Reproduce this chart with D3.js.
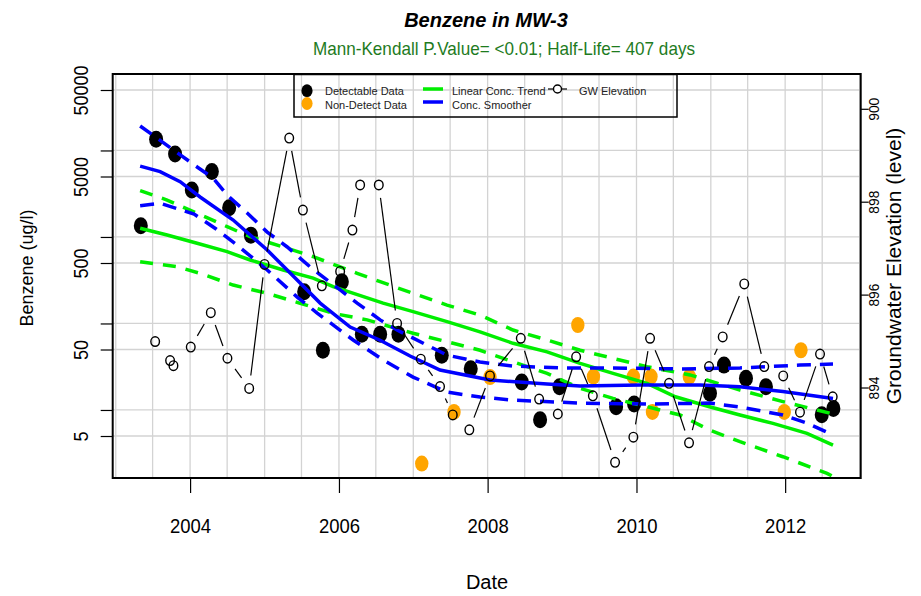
<!DOCTYPE html>
<html>
<head>
<meta charset="utf-8">
<script src="https://cdn.jsdelivr.net/npm/d3@7"></script>
<style>
  body { margin: 0; background: #fff; }
  text { font-family: "Liberation Sans", Arial, sans-serif; }
</style>
</head>
<body>
<div id="chart"></div>
<script>
// dates are decimal years, concentrations in ug/l, elevations in ft
var detectDates = [2003.337, 2003.543, 2003.798, 2004.023, 2004.292, 2004.524, 2004.816, 2005.532, 2005.784, 2006.039,
    2006.308, 2006.554, 2006.800, 2007.383, 2007.773, 2008.458, 2008.704, 2008.964, 2009.726, 2009.968,
    2010.989, 2011.177, 2011.473, 2011.742, 2012.491, 2012.647];
var detectValues = [1350, 13500, 9100, 3500, 5700, 2180, 1050, 233, 49, 304,
    75, 75, 75, 43, 30, 21, 7.7, 18.6, 10.9, 11.7,
    15.6, 33, 23.2, 18.6, 8.8, 10.4];

var ndDates = [2007.114, 2007.548, 2008.032, 2009.211, 2009.421, 2009.958, 2010.195, 2010.215, 2010.711, 2011.988, 2012.212];
var ndValues = [2.4, 9.5, 24, 96, 24.3, 24.3, 24.3, 9.5, 24.3, 9.5, 49];

var gwDates = [2003.530, 2003.731, 2003.776, 2004.009, 2004.278, 2004.501, 2004.793, 2004.999, 2005.331, 2005.515,
    2005.770, 2006.016, 2006.181, 2006.285, 2006.536, 2006.782, 2007.101, 2007.360, 2007.531, 2007.754,
    2008.032, 2008.445, 2008.691, 2008.942, 2009.188, 2009.413, 2009.712, 2009.958, 2010.183, 2010.438,
    2010.707, 2010.976, 2011.160, 2011.450, 2011.719, 2011.974, 2012.199, 2012.468, 2012.638];
var gwLevels = [894.99, 894.58, 894.47, 894.87, 895.61, 894.63, 893.98, 896.65, 899.37, 897.82,
    896.19, 896.50, 897.39, 898.36, 898.36, 895.38, 894.61, 894.02, 893.41, 893.09,
    894.25, 895.06, 893.75, 893.43, 894.66, 893.82, 892.39, 892.93, 895.06, 894.09,
    892.81, 894.45, 895.09, 896.23, 894.45, 894.25, 893.47, 894.72, 893.80];

var smoothDates = [2003.328, 2003.597, 2003.866, 2004.134, 2004.578, 2005.035, 2005.344, 2005.747, 2006.151, 2006.554,
    2006.957, 2007.360, 2008.032, 2008.798, 2009.242, 2010.048, 2010.855, 2011.392, 2011.970, 2012.642];
var smoothValues = [6600, 5700, 4350, 2900, 1570, 706, 383, 172, 91, 64,
    42, 29, 22.2, 20, 18.9, 19.4, 19.4, 18.6, 16.3, 13.6];

var smoothUpDates = [2003.328, 2004.094, 2004.309, 2004.497, 2004.766, 2005.035, 2005.304, 2005.613, 2006.016, 2006.245,
    2006.554, 2006.782, 2007.454, 2007.898, 2008.341, 2009.013, 2009.685, 2010.586, 2011.392, 2012.199, 2012.642];
var smoothUpValues = [19200, 6440, 4800, 3055, 1890, 1140, 766, 450, 244, 172,
    110, 84, 43, 35.8, 32.2, 30.6, 30.6, 29.8, 30.6, 33, 34];

var smoothLoDates = [2003.328, 2003.597, 2004.054, 2004.349, 2004.645, 2005.035, 2005.438, 2005.707, 2006.191, 2006.594,
    2006.997, 2007.454, 2007.898, 2008.341, 2009.242, 2010.142, 2010.989, 2011.392, 2011.970, 2012.293, 2012.642];
var smoothLoValues = [2300, 2450, 1840, 1236, 787, 415, 202, 132, 64.4, 37.8,
    24, 16.1, 14.1, 13, 12, 11.7, 12, 10.8, 8.75, 7.06, 5.13];

var trendDates = [2003.328, 2003.691, 2004.094, 2004.497, 2004.806, 2005.250, 2005.653, 2005.922, 2006.594, 2006.997,
    2007.454, 2007.898, 2008.341, 2008.798, 2009.242, 2009.685, 2010.142, 2010.524, 2010.981, 2011.392,
    2011.836, 2012.293, 2012.642];
var trendValues = [1259, 1054, 845, 676, 542, 415, 335, 266, 172, 137,
    105, 80, 59, 47, 34.6, 26.5, 20.3, 14.2, 10.9, 8.75,
    7.0, 5.37, 3.93];

var trendUpDates = [2003.328, 2003.691, 2004.094, 2004.497, 2004.806, 2005.304, 2005.653, 2006.245, 2006.554, 2006.997,
    2007.454, 2007.898, 2008.341, 2008.798, 2009.242, 2009.685, 2010.142, 2010.720, 2011.392, 2011.970, 2012.642];
var trendUpValues = [3427, 2673, 1878, 1315, 1007, 740, 592, 380, 304, 223,
    163, 125, 84, 64.4, 49, 39.5, 31.6, 25.4, 17, 12.5, 9];

var trendLoDates = [2003.328, 2003.825, 2004.134, 2004.578, 2005.035, 2005.478, 2005.922, 2006.379, 2006.997, 2007.454,
    2007.898, 2008.341, 2008.798, 2009.242, 2009.685, 2010.142, 2010.586, 2010.981, 2011.392, 2011.970,
    2012.562, 2012.642];
var trendLoValues = [518, 453, 380, 278, 223, 171, 131, 110, 77, 61.5,
    49, 36, 26.5, 17.8, 13.6, 10.9, 8.75, 5.87, 4.3, 2.88,
    1.85, 1.7];

var concTicks = [5, 10, 50, 100, 500, 1000, 5000, 10000, 50000];
var concLabels = [5, 50, 500, 5000, 50000];
var gwTicks = [894, 896, 898, 900];
var yearTicks = [2004, 2006, 2008, 2010, 2012];

var legendItems = ["Detectable Data", "Non-Detect Data", "Linear Conc. Trend", "Conc. Smoother", "GW Elevation"];

// decimal year -> UTC date
function yr(v) {
    var y = Math.floor(v);
    var s = Date.UTC(y, 0, 1), e = Date.UTC(y + 1, 0, 1);
    return new Date(s + (v - y) * (e - s));
}

function zip(a, b) { return a.map(function(d, i) { return [d, b[i]]; }); }

// squeeze text horizontally, the source uses a narrow face
function condense(sel, k) {
    sel.each(function() {
        var L = this.getComputedTextLength();
        d3.select(this).attr("textLength", L * k).attr("lengthAdjust", "spacingAndGlyphs");
    });
}

var width = 921, height = 596;
var margin = { top: 74, right: 60.3, bottom: 118, left: 112.7 };
var pw = width - margin.left - margin.right;
var ph = height - margin.top - margin.bottom;

var svg = d3.select("#chart").append("svg")
    .attr("width", width)
    .attr("height", height);

var x = d3.scaleUtc()
    .domain([new Date(Date.UTC(2002, 11, 17)), new Date(Date.UTC(2013, 0, 6))])
    .range([0, pw]);
var y = d3.scaleLog()
    .domain([1.635, 76550])
    .range([ph, 0]);
var y2 = d3.scaleLinear()
    .domain([892.052, 900.749])
    .range([ph, 0]);

var g = svg.append("g").attr("transform", "translate(" + margin.left + "," + margin.top + ")");

svg.append("defs").append("clipPath").attr("id", "clip")
    .append("rect").attr("width", pw).attr("height", ph);

// grid
g.append("g").selectAll("line")
    .data(x.ticks(d3.utcMonth.every(6)))
    .enter().append("line")
    .attr("x1", d => x(d)).attr("x2", d => x(d))
    .attr("y1", 0).attr("y2", ph)
    .attr("stroke", "#d3d3d3").attr("stroke-width", 1.3);
g.append("g").selectAll("line")
    .data(concTicks)
    .enter().append("line")
    .attr("x1", 0).attr("x2", pw)
    .attr("y1", d => y(d)).attr("y2", d => y(d))
    .attr("stroke", "#d3d3d3").attr("stroke-width", 1.3);

var plot = g.append("g").attr("clip-path", "url(#clip)");

// sample points
plot.selectAll(".det")
    .data(zip(detectDates, detectValues))
    .enter().append("ellipse")
    .attr("cx", d => x(yr(d[0])))
    .attr("cy", d => y(d[1]))
    .attr("rx", 7).attr("ry", 8.5)
    .attr("fill", "#000");
plot.selectAll(".nd")
    .data(zip(ndDates, ndValues))
    .enter().append("ellipse")
    .attr("cx", d => x(yr(d[0])))
    .attr("cy", d => y(d[1]))
    .attr("rx", 6.7).attr("ry", 8)
    .attr("fill", "#ffa500");

var line = d3.line()
    .x(d => x(yr(d[0])))
    .y(d => y(d[1]));

function drawLine(dates, vals, color, dash) {
    plot.append("path")
        .datum(zip(dates, vals))
        .attr("d", line)
        .attr("fill", "none")
        .attr("stroke", color)
        .attr("stroke-width", 3.5)
        .attr("stroke-dasharray", dash);
}
drawLine(trendUpDates, trendUpValues, "#00ee00", "13,10");
drawLine(trendLoDates, trendLoValues, "#00ee00", "13,10");
drawLine(trendDates, trendValues, "#00ee00", null);
drawLine(smoothUpDates, smoothUpValues, "#0000ff", "14,9");
drawLine(smoothLoDates, smoothLoValues, "#0000ff", "14,9");
drawLine(smoothDates, smoothValues, "#0000ff", null);

// groundwater elevation, R type="b": segments stop short of the circles
var gw = zip(gwDates, gwLevels).map(d => [x(yr(d[0])), y2(d[1])]);
var gap = 13;
for (var i = 0; i < gw.length - 1; i++) {
    var a = gw[i], b = gw[i + 1];
    var dx = b[0] - a[0], dy = b[1] - a[1];
    var dist = Math.sqrt(dx * dx + dy * dy);
    if (dist <= 2 * gap) continue;
    var ux = dx / dist, uy = dy / dist;
    plot.append("line")
        .attr("x1", a[0] + ux * gap).attr("y1", a[1] + uy * gap)
        .attr("x2", b[0] - ux * gap).attr("y2", b[1] - uy * gap)
        .attr("stroke", "#000").attr("stroke-width", 1.2);
}
plot.selectAll(".gw")
    .data(gw)
    .enter().append("ellipse")
    .attr("cx", d => d[0]).attr("cy", d => d[1])
    .attr("rx", 4.3).attr("ry", 4.8)
    .attr("fill", "none").attr("stroke", "#000").attr("stroke-width", 1.4);

// axes
var xAxis = g.append("g")
    .attr("transform", "translate(0," + ph + ")")
    .call(d3.axisBottom(x).tickValues(yearTicks.map(yr)).tickSize(15).tickFormat(d3.utcFormat("%Y")));
xAxis.select(".domain").remove();
xAxis.selectAll("text").attr("y", 55).attr("dy", null)
    .attr("font-size", 21).attr("fill", "#000");
condense(xAxis.selectAll("text"), 0.88);

var yAxis = g.append("g")
    .call(d3.axisLeft(y).tickValues(concTicks).tickSize(12)
        .tickFormat(d => concLabels.indexOf(d) >= 0 ? String(d) : ""));
yAxis.select(".domain").remove();
yAxis.selectAll("text")
    .attr("x", null).attr("dy", null)
    .attr("text-anchor", "middle")
    .attr("transform", "translate(-25,0) rotate(-90)")
    .attr("font-size", 21).attr("fill", "#000");
condense(yAxis.selectAll("text"), 0.86);

var y2Axis = g.append("g")
    .attr("transform", "translate(" + pw + ",0)")
    .call(d3.axisRight(y2).tickValues(gwTicks).tickSize(8).tickFormat(d3.format("d")));
y2Axis.select(".domain").remove();
y2Axis.selectAll("text")
    .attr("x", null).attr("dy", null)
    .attr("text-anchor", "middle")
    .attr("transform", "translate(18,0) rotate(-90)")
    .attr("font-size", 15).attr("fill", "#000");
condense(y2Axis.selectAll("text"), 0.92);
g.selectAll(".tick line").attr("stroke", "#000").attr("stroke-width", 1.2);

// frame
g.append("rect")
    .attr("width", pw).attr("height", ph)
    .attr("fill", "none").attr("stroke", "#000").attr("stroke-width", 2);

// legend
var lg = svg.append("g");
lg.append("rect").attr("x", 294).attr("y", 74.5).attr("width", 383).attr("height", 42.5)
    .attr("fill", "none").attr("stroke", "#000").attr("stroke-width", 1.5);
lg.append("ellipse").attr("cx", 307).attr("cy", 90.7).attr("rx", 5.6).attr("ry", 6.4).attr("fill", "#000");
lg.append("ellipse").attr("cx", 307).attr("cy", 103.5).attr("rx", 5.6).attr("ry", 6.4).attr("fill", "#ffa500");
lg.append("line").attr("x1", 423).attr("x2", 443).attr("y1", 89).attr("y2", 89)
    .attr("stroke", "#00ee00").attr("stroke-width", 3.5);
lg.append("line").attr("x1", 423).attr("x2", 443).attr("y1", 102).attr("y2", 102)
    .attr("stroke", "#0000ff").attr("stroke-width", 3.5);
lg.append("line").attr("x1", 548).attr("x2", 567).attr("y1", 89).attr("y2", 89)
    .attr("stroke", "#000").attr("stroke-width", 1.2);
lg.append("circle").attr("cx", 557.5).attr("cy", 89).attr("r", 4)
    .attr("fill", "#fff").attr("stroke", "#000").attr("stroke-width", 1.4);
var legPos = [[325, 95], [325, 108.5], [452, 95], [452, 108.5], [579, 95]];
lg.selectAll("text")
    .data(legendItems)
    .enter().append("text")
    .attr("x", (d, i) => legPos[i][0])
    .attr("y", (d, i) => legPos[i][1])
    .attr("font-size", 11)
    .attr("fill", "#222")
    .text(d => d);

// titles
svg.append("text")
    .attr("x", 486).attr("y", 26.5)
    .attr("text-anchor", "middle")
    .attr("font-size", 20).attr("font-weight", "bold").attr("font-style", "italic")
    .text("Benzene in MW-3");
var sub = svg.append("text")
    .attr("x", 504).attr("y", 55)
    .attr("text-anchor", "middle")
    .attr("font-size", 19).attr("fill", "#1e7b1e")
    .text("Mann-Kendall P.Value= <0.01; Half-Life= 407 days");
condense(sub, 0.9);

svg.append("text")
    .attr("x", 487).attr("y", 589)
    .attr("text-anchor", "middle")
    .attr("font-size", 20)
    .text("Date");

svg.append("text")
    .attr("transform", "translate(33,268) rotate(-90)")
    .attr("text-anchor", "middle")
    .attr("font-size", 18)
    .text("Benzene (ug/l)");

svg.append("text")
    .attr("transform", "translate(901,266) rotate(-90)")
    .attr("text-anchor", "middle")
    .attr("font-size", 21)
    .text("Groundwater Elevation (level)");
</script>
</body>
</html>
